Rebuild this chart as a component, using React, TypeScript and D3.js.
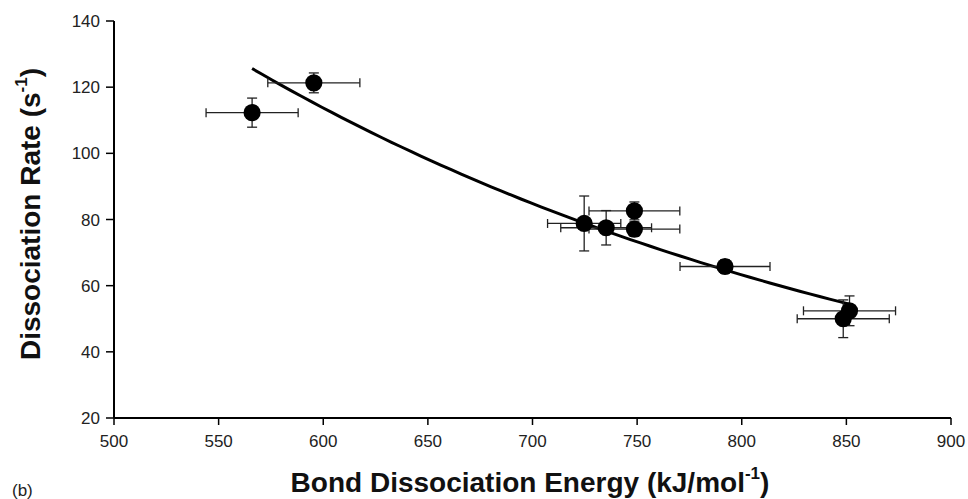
import React from 'react';
import * as d3 from 'd3';

// bond dissociation energy (kJ/mol) with horizontal error
const energy = [566, 595.5, 724.7, 735.2, 748.7, 748.7, 792, 851.5, 848.5];
const energyErr = [22, 22, 17.5, 21.7, 21.7, 21.7, 21.5, 22, 22];
// dissociation rate (s-1) with vertical error
const rate = [112.3, 121.3, 78.8, 77.5, 82.6, 77.1, 65.8, 52.4, 50.0];
const rateErr = [4.4, 3.0, 8.3, 5.2, 2.7, 2.2, 2.0, 4.5, 5.7];

const xTicks = [500, 550, 600, 650, 700, 750, 800, 850, 900];
const yTicks = [20, 40, 60, 80, 100, 120, 140];

const W = 968;
const H = 499;

export default function App() {
  const x = d3.scaleLinear().domain([500, 900]).range([114, 951]);
  const y = d3.scaleLinear().domain([20, 140]).range([418, 21]);

  const pts = energy.map((e, i) => ({ e, r: rate[i], ex: energyErr[i], ey: rateErr[i] }));

  // exponential trendline fitted to the points (least squares on ln y)
  const mx = d3.mean(pts, (d) => d.e) as number;
  const my = d3.mean(pts, (d) => Math.log(d.r)) as number;
  const sxy = d3.sum(pts, (d) => (d.e - mx) * (Math.log(d.r) - my));
  const sxx = d3.sum(pts, (d) => (d.e - mx) ** 2);
  const b = sxy / sxx;
  const a = Math.exp(my - b * mx);
  const [lo, hi] = d3.extent(energy) as [number, number];
  const fit = d3.range(0, 61).map((k) => {
    const e = lo + ((hi - lo) * k) / 60;
    return [e, a * Math.exp(b * e)] as [number, number];
  });
  const line = d3
    .line<[number, number]>()
    .x((d) => x(d[0]))
    .y((d) => y(d[1]))
    .curve(d3.curveMonotoneX);

  const font = '"Liberation Sans", Arial, sans-serif';
  const cap = 4.5;

  return (
    <>
      <style>{'body{margin:0}'}</style>
      <svg width={W} height={H} style={{ display: 'block', background: '#fff' }} fontFamily={font}>
        {/* axes */}
        <line x1={x(500)} x2={x(900)} y1={y(20)} y2={y(20)} stroke="#000" strokeWidth={2} />
        <line x1={x(500)} x2={x(500)} y1={y(20)} y2={y(140)} stroke="#000" strokeWidth={2} />
        {xTicks.map((t) => (
          <g key={'x' + t}>
            <line x1={x(t)} x2={x(t)} y1={y(20)} y2={y(20) + 7} stroke="#000" strokeWidth={1.5} />
            <text x={x(t)} y={447} textAnchor="middle" fontSize={17} fill="#222">
              {t}
            </text>
          </g>
        ))}
        {yTicks.map((t) => (
          <g key={'y' + t}>
            <line x1={x(500) - 8} x2={x(500)} y1={y(t)} y2={y(t)} stroke="#000" strokeWidth={1.5} />
            <text x={100} y={y(t) + 6} textAnchor="end" fontSize={17} fill="#222">
              {t}
            </text>
          </g>
        ))}

        {/* fitted curve */}
        <path d={line(fit) || ''} fill="none" stroke="#000" strokeWidth={3} />

        {/* error bars */}
        {pts.map((d, i) => (
          <g key={'e' + i} stroke="#222" strokeWidth={1.3}>
            <line x1={x(d.e - d.ex)} x2={x(d.e + d.ex)} y1={y(d.r)} y2={y(d.r)} />
            <line x1={x(d.e - d.ex)} x2={x(d.e - d.ex)} y1={y(d.r) - cap} y2={y(d.r) + cap} />
            <line x1={x(d.e + d.ex)} x2={x(d.e + d.ex)} y1={y(d.r) - cap} y2={y(d.r) + cap} />
            <line x1={x(d.e)} x2={x(d.e)} y1={y(d.r - d.ey)} y2={y(d.r + d.ey)} />
            <line x1={x(d.e) - cap - 0.5} x2={x(d.e) + cap + 0.5} y1={y(d.r - d.ey)} y2={y(d.r - d.ey)} />
            <line x1={x(d.e) - cap - 0.5} x2={x(d.e) + cap + 0.5} y1={y(d.r + d.ey)} y2={y(d.r + d.ey)} />
          </g>
        ))}
        {/* markers */}
        {pts.map((d, i) => (
          <circle key={'p' + i} cx={x(d.e)} cy={y(d.r)} r={8.6} fill="#000" />
        ))}

        {/* titles */}
        <text x={530} y={492} textAnchor="middle" fontSize={28} fontWeight="bold" fill="#111">
          Bond Dissociation Energy (kJ/mol
          <tspan fontSize={17} dy={-13}>-1</tspan>
          <tspan dy={13}>)</tspan>
        </text>
        <text
          transform={`translate(40,214) rotate(-90)`}
          textAnchor="middle"
          fontSize={28}
          fontWeight="bold"
          fill="#111"
        >
          Dissociation Rate (s
          <tspan fontSize={17} dy={-13}>-1</tspan>
          <tspan dy={13}>)</tspan>
        </text>
        <text x={12} y={496} fontSize={17} fill="#222">
          (b)
        </text>
      </svg>
    </>
  );
}
